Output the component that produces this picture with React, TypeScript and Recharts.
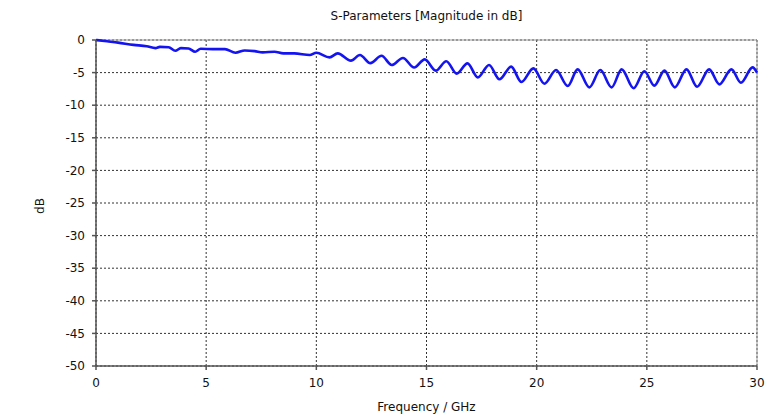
import React from "react";
import { LineChart, Line, XAxis, YAxis, CartesianGrid, ReferenceLine } from "recharts";

const freqGHz: number[] = [
  0, 0.5, 1.0, 1.7, 2.3, 2.7, 2.9, 3.3, 3.6, 3.85, 4.2, 4.5, 4.75, 5.3, 5.85, 6.33, 6.75, 7.2, 7.57, 8.1, 8.5, 9.0, 9.7, 10.0,
  10.6, 10.97, 11.57, 11.98, 12.45, 12.96, 13.42, 13.93, 14.44, 14.92, 15.42, 15.9, 16.37, 16.86, 17.33, 17.84, 18.31, 18.84,
  19.31, 19.85, 20.35, 20.88, 21.41, 21.86, 22.39, 22.89, 23.4, 23.86, 24.4, 24.89, 25.34, 25.8, 26.27, 26.8, 27.28, 27.83,
  28.29, 28.84, 29.27, 29.8, 30,
];
const magDB: number[] = [
  0, -0.2, -0.4, -0.75, -0.95, -1.25, -1.05, -1.1, -1.65, -1.25, -1.3, -1.8, -1.35, -1.4, -1.4, -1.95, -1.6, -1.7, -1.9, -1.8, -2.05, -2.05, -2.3, -1.95,
  -2.66, -2.05, -3.17, -2.3, -3.55, -2.42, -3.83, -2.75, -4.22, -2.97, -4.7, -3.25, -5.15, -3.58, -5.73, -3.83, -6.03, -4.09,
  -6.45, -4.35, -6.7, -4.6, -7.06, -4.5, -7.26, -4.6, -7.26, -4.5, -7.4, -4.8, -7.0, -4.7, -7.26, -4.5, -7.16, -4.5,
  -6.8, -4.5, -6.55, -4.2, -5.0,
];
const xTicks: number[] = [0, 5, 10, 15, 20, 25, 30];
const yTicks: number[] = [0, -5, -10, -15, -20, -25, -30, -35, -40, -45, -50];

const data = freqGHz.map((f, i) => ({ f, db: magDB[i] }));

const font = "'DejaVu Sans', Verdana, sans-serif";
const tickStyle = { fontSize: 12, fill: "#111", fontFamily: font };

export default function App() {
  return (
    <div style={{ position: "absolute", left: 0, top: 0, width: 769, height: 419, background: "#fff", fontFamily: font }}>
      <div style={{ position: "absolute", left: 96, width: 661, top: 9, textAlign: "center", fontSize: 12, color: "#111" }}>
        S-Parameters [Magnitude in dB]
      </div>
      <div
        style={{
          position: "absolute",
          left: 40,
          top: 206,
          fontSize: 12,
          color: "#111",
          transform: "translate(-50%, -50%) rotate(-90deg)",
        }}
      >
        dB
      </div>
      <div style={{ position: "absolute", left: 96, width: 661, top: 400, textAlign: "center", fontSize: 12, color: "#111" }}>
        Frequency / GHz
      </div>
      <LineChart width={769} height={419} data={data} margin={{ top: 40, right: 12, bottom: 23, left: 0 }}>
        <CartesianGrid stroke="#333" strokeDasharray="2 2" strokeWidth={1} />
        <XAxis
          dataKey="f"
          type="number"
          domain={[0, 30]}
          ticks={xTicks}
          height={30}
          tickSize={4}
          tickMargin={8}
          tick={tickStyle}
          stroke="#555"
          strokeWidth={1.5}
          interval={0}
        />
        <YAxis
          type="number"
          domain={[-50, 0]}
          ticks={yTicks}
          width={96}
          tickSize={4}
          tickMargin={7}
          tick={tickStyle}
          stroke="#555"
          strokeWidth={1.5}
          interval={0}
        />
        <ReferenceLine y={0} stroke="#999" strokeWidth={1} />
        <ReferenceLine x={30} stroke="#999" strokeWidth={1} />
        <Line
          type="monotone"
          dataKey="db"
          stroke="#1414f0"
          strokeWidth={2.6}
          dot={false}
          isAnimationActive={false}
        />
      </LineChart>
    </div>
  );
}
